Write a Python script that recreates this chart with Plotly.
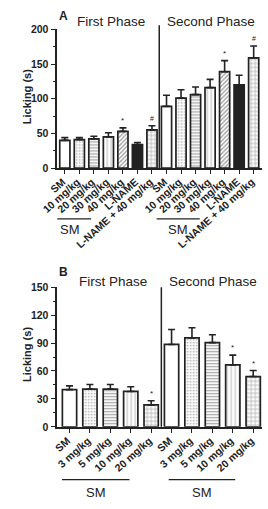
import plotly.graph_objects as go

# ---------------- data ----------------
# Panel A
a_labels = ["SM", "10 mg/kg", "20 mg/kg", "30 mg/kg", "40 mg/kg", "L-NAME", "L-NAME + 40 mg/kg"]
a_first_mean = [40, 41, 42, 45, 53, 34, 55]
a_first_sem = [4, 3, 4, 6, 5, 3, 6]
a_first_sig = ["", "", "", "", "*", "", "#"]
a_second_mean = [89, 101, 106, 116, 139, 120, 159]
a_second_sem = [16, 12, 11, 12, 16, 14, 17]
a_second_sig = ["", "", "", "", "*", "", "#"]

# Panel B
b_labels = ["SM", "3 mg/kg", "5 mg/kg", "10 mg/kg", "20 mg/kg"]
b_first_mean = [40, 40.5, 40.5, 38, 23.5]
b_first_sem = [4, 5, 5, 5, 4.5]
b_first_sig = ["", "", "", "", "*"]
b_second_mean = [88.5, 95.5, 90.5, 66.5, 54]
b_second_sem = [16, 11, 8.5, 10.5, 6.5]
b_second_sig = ["", "", "", "*", "*"]

a_ticks = [0, 50, 100, 150, 200]
b_ticks = [0, 30, 60, 90, 120, 150]

# ---------------- styling ----------------
W, H = 268, 509
FONT = "Liberation Sans, Arial, sans-serif"

a_pattern = ["", ".", "-", "|", "/", "", "+"]
a_psize = [4, 3, 3, 4, 3, 4, 4]
a_psol = [0.2, 0.25, 0.4, 0.2, 0.45, 0.2, 0.3]
a_pcol = ["#000", "#bbb", "#333", "#888", "#444", "#000", "#222"]
a_color = ["white", "white", "white", "white", "white", "#222", "white"]

b_pattern = ["", ".", "-", "|", "+"]
b_psize = [4, 3, 3, 4, 4]
b_psol = [0.2, 0.25, 0.4, 0.2, 0.3]
b_pcol = ["#000", "#bbb", "#333", "#888", "#222"]
b_color = ["white"] * 5


def px_x(p):
    return p / W


def px_y(p):
    return 1 - p / H


fig = go.Figure()


def add_panel(labels, fm, fs, fsig, sm, ss, ssig, colors, pat, psz, psol, pcol, xa, ya):
    n = len(labels)
    xs = list(range(2 * n))
    means = fm + sm
    sems = fs + ss
    sig = fsig + ssig
    fig.add_trace(go.Bar(
        x=xs, y=means, width=0.7,
        marker=dict(
            color=colors + colors,
            line=dict(color="#222", width=1.7),
            pattern=dict(shape=pat + pat, size=psz + psz, solidity=psol + psol,
                         fgcolor=pcol + pcol, fillmode="overlay"),
        ),
        error_y=dict(type="data", symmetric=False, array=sems, arrayminus=[0] * len(sems),
                     color="#222", thickness=1.6, width=3.5),
        xaxis=xa, yaxis=ya, showlegend=False, hoverinfo="skip",
    ))
    for i, s in enumerate(sig):
        if s:
            fig.add_annotation(x=xs[i], y=means[i] + sems[i], xref=xa, yref=ya, text=s,
                               showarrow=False, xanchor="center", yanchor="bottom",
                               yshift=1 if s == "*" else 2,
                               font=dict(family=FONT, size=8 if s == "*" else 7, color="#222"))
    return xs


xa_dom = [px_x(43), px_x(262)]

xsA = add_panel(a_labels, a_first_mean, a_first_sem, a_first_sig, a_second_mean, a_second_sem,
                a_second_sig, a_color, a_pattern, a_psize, a_psol, a_pcol, "x", "y")
xsB = add_panel(b_labels, b_first_mean, b_first_sem, b_first_sig, b_second_mean, b_second_sem,
                b_second_sig, b_color, b_pattern, b_psize, b_psol, b_pcol, "x2", "y2")

xtickfont = dict(family=FONT, size=10.5, color="#222", weight="bold")
ytickfont = dict(family=FONT, size=10.5, color="#222", weight="bold")
common_x = dict(showline=True, linecolor="#222", linewidth=1.5, ticks="outside", ticklen=4,
                tickwidth=1.3, tickcolor="#222", tickangle=-42, tickfont=xtickfont,
                ticklabelstandoff=-2, ticklabelshift=-2, showgrid=False, zeroline=False)
common_y = dict(showline=True, linecolor="#222", linewidth=1.5, ticks="outside", ticklen=5,
                tickwidth=1.3, tickcolor="#222", tickfont=ytickfont, showgrid=False,
                zeroline=False)

nA = len(a_labels)
nB = len(b_labels)
fig.update_layout(
    width=W, height=H, margin=dict(l=0, r=0, t=0, b=0),
    paper_bgcolor="white", plot_bgcolor="white", bargap=0.3,
    xaxis=dict(domain=xa_dom, range=[-0.52, 2 * nA - 1 + 0.6], tickvals=xsA,
               ticktext=a_labels + a_labels, anchor="y", **common_x),
    yaxis=dict(domain=[px_y(166), px_y(24)], range=[0, 200], tickvals=a_ticks,
               minor=dict(dtick=25, ticks="outside", ticklen=2.5, tickwidth=1.2, tickcolor="#222"),
               anchor="x", **common_y),
    xaxis2=dict(domain=xa_dom, range=[-0.6, 2 * nB - 1 + 0.45], tickvals=xsB,
                ticktext=b_labels + b_labels, anchor="y2", **common_x),
    yaxis2=dict(domain=[px_y(431), px_y(288)], range=[0, 150], tickvals=b_ticks,
                minor=dict(dtick=15, ticks="outside", ticklen=2.5, tickwidth=1.2, tickcolor="#222"),
                anchor="x2", **common_y),
)

# phase dividers
fig.add_shape(type="line", xref="x", yref="y domain", x0=nA - 0.5, x1=nA - 0.5, y0=0, y1=1.03,
              line=dict(color="#222", width=1.5))
fig.add_shape(type="line", xref="x2", yref="y2 domain", x0=nB - 0.5, x1=nB - 0.5, y0=0, y1=1.0,
              line=dict(color="#222", width=1.5))

titlefont = dict(family=FONT, size=13.5, color="#222")
# phase titles
for x, y, t in [(100, 16, "First Phase"), (207, 16, "Second Phase"),
                (102, 282, "First Phase"), (209, 282, "Second Phase")]:
    fig.add_annotation(x=px_x(x), y=px_y(y), xref="paper", yref="paper", text=t,
                       showarrow=False, xanchor="center", yanchor="middle", font=titlefont)
# panel letters
for x, y, t in [(50, 10, "A"), (50, 272, "B")]:
    fig.add_annotation(x=px_x(x), y=px_y(y), xref="paper", yref="paper", text="<b>%s</b>" % t,
                       showarrow=False, xanchor="center", yanchor="middle",
                       font=dict(family=FONT, size=12, color="#222"))
# y-axis titles
for y in [93, 357]:
    fig.add_annotation(x=px_x(10), y=px_y(y), xref="paper", yref="paper",
                       text="<b>Licking (s)</b>", textangle=-90, showarrow=False,
                       xanchor="center", yanchor="middle",
                       font=dict(family=FONT, size=11, color="#222"))

# group underlines with "SM"
groupsA = [(0, -1.16, 1.81), (nA, -0.68, 2.29)]
for g0, a, b in groupsA:
    fig.add_shape(type="line", xref="x", yref="paper", x0=g0 + a, x1=g0 + b,
                  y0=px_y(218), y1=px_y(218), line=dict(color="#222", width=1.3))
    fig.add_annotation(x=g0 + (a + b) / 2, y=px_y(229), xref="x", yref="paper", text="SM",
                       showarrow=False, xanchor="center", yanchor="middle",
                       font=dict(family=FONT, size=13, color="#222"))
groupsB = [(0, -0.37, 2.94), (nB, -0.14, 3.12)]
for g0, a, b in groupsB:
    fig.add_shape(type="line", xref="x2", yref="paper", x0=g0 + a, x1=g0 + b,
                  y0=px_y(485), y1=px_y(485), line=dict(color="#222", width=1.3))
    fig.add_annotation(x=g0 + (a + b) / 2, y=px_y(498), xref="x2", yref="paper", text="SM",
                       showarrow=False, xanchor="center", yanchor="middle",
                       font=dict(family=FONT, size=13, color="#222"))

fig.write_html("out.html")
